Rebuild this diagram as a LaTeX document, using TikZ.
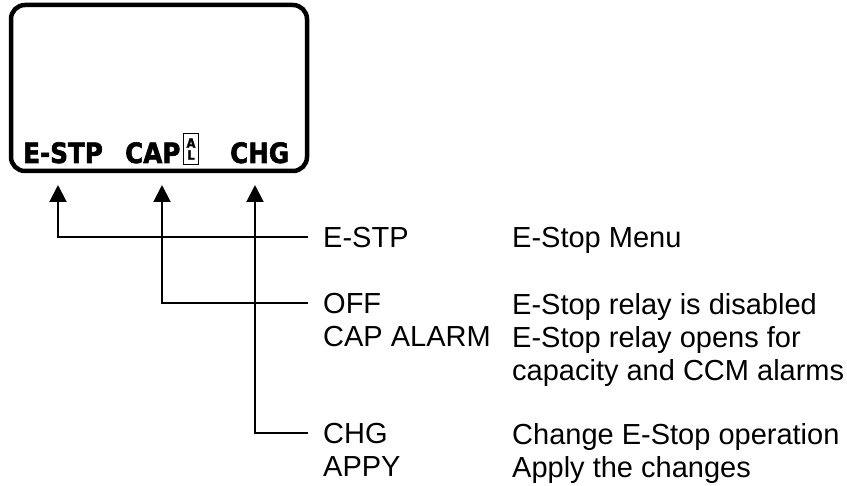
\documentclass[tikz,border=0pt]{standalone}
\usepackage{fontspec}
\setmainfont{Liberation Sans}
\newfontfamily\lcdfont{DejaVu Sans}[FakeStretch=0.88,FakeBold=2]
\usetikzlibrary{positioning,arrows.meta}

\begin{document}
\begin{tikzpicture}[x=1pt,y=-1pt,
  lcd/.style={draw,line width=4.5pt,rounded corners=14pt,minimum width=296pt,minimum height=166pt},
  lcdtext/.style={anchor=base west,inner sep=0pt,font=\lcdfont\bfseries\fontsize{28}{28}\selectfont},
  albox/.style={draw,line width=1.3pt,minimum width=15pt,minimum height=31pt,inner sep=0pt,align=center,font=\lcdfont\bfseries\fontsize{13}{15}\selectfont},
  keytext/.style={anchor=north west,inner sep=0pt,align=left,font=\fontsize{29}{33}\selectfont},
  flow/.style={-{Triangle[length=17pt,width=17pt]},line width=2pt}]
\useasboundingbox (0,0) rectangle (847,486);
\node[lcd] (lcd) at (159,88) {};
\node[lcdtext] (lblE) at (23,163) {E-STP};
\node[lcdtext] (lblC) at (125,163) {CAP};
\node[albox] (al) at (191,149) {A\\[-3pt]L};
\node[lcdtext] (lblG) at (230,163) {CHG};
\coordinate (tipE) at (58,185); \coordinate (tipC) at (162,185); \coordinate (tipG) at (255,185);
\node[keytext] (estp) at (323,227) {E-STP};
\node[keytext] (estpdesc) at (512,227) {E-Stop Menu};
\node[keytext] (off) at (323,293) {OFF\\CAP ALARM};
\node[keytext] (offdesc) at (512,293) {E-Stop relay is disabled\\E-Stop relay opens for\\capacity and CCM alarms};
\node[keytext] (chg) at (323,423) {CHG\\APPY};
\node[keytext] (chgdesc) at (512,423) {Change E-Stop operation\\Apply the changes};
\draw[flow] ([xshift=-15pt,yshift=-10.5pt]estp.north west) -| (tipE); \draw[flow] ([xshift=-15pt,yshift=-10.5pt]off.north west) -| (tipC); \draw[flow] ([xshift=-15pt,yshift=-10.5pt]chg.north west) -| (tipG);
\end{tikzpicture}
\end{document}
